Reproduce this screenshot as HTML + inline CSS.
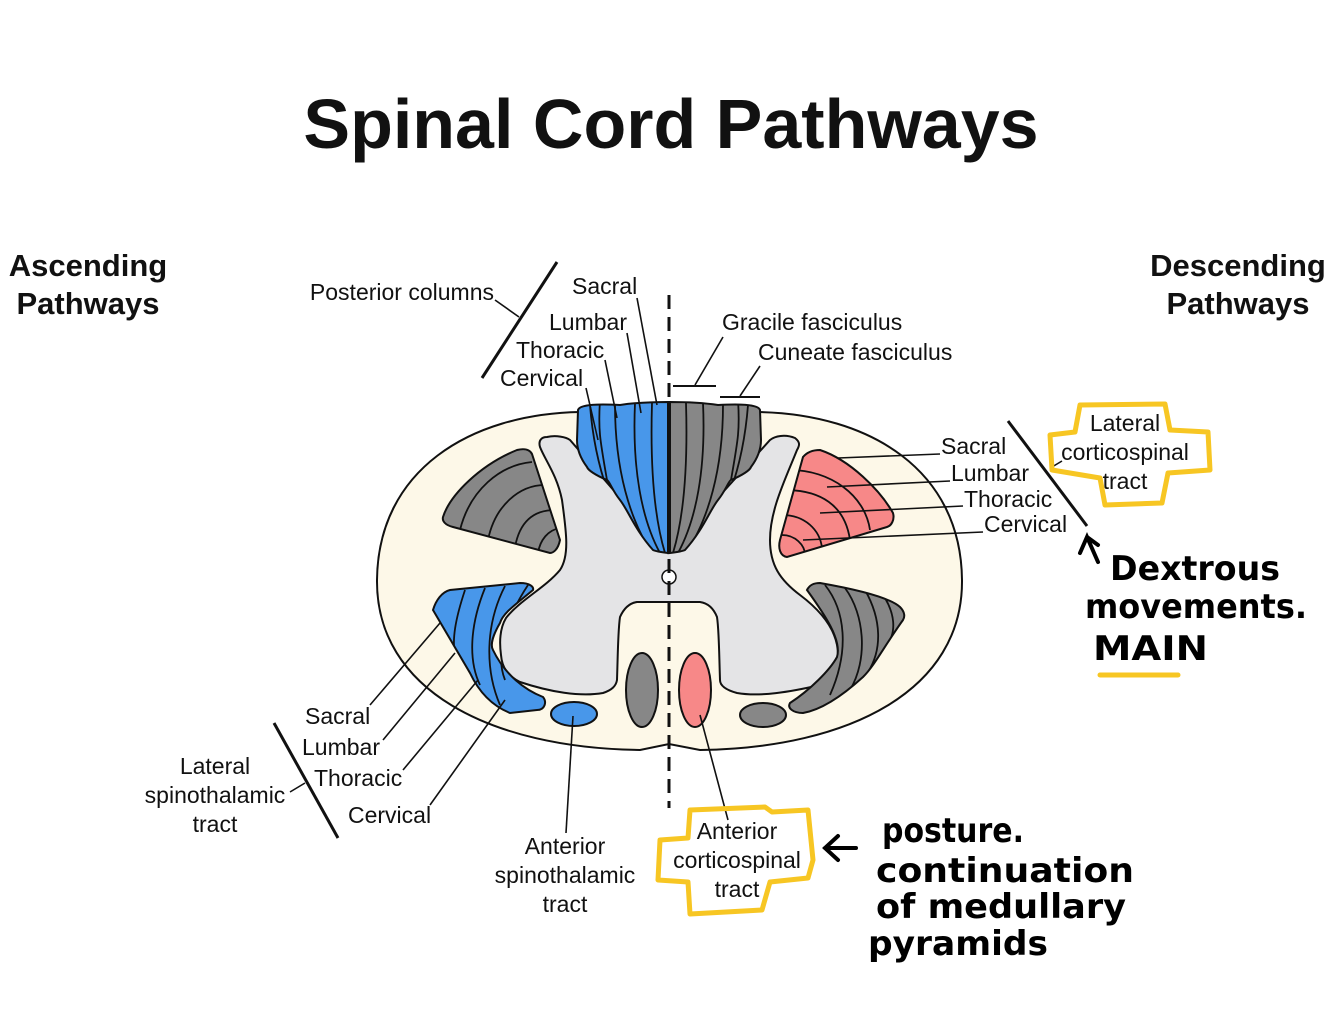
<!DOCTYPE html>
<html><head><meta charset="utf-8"><style>
html,body{margin:0;padding:0;background:#fff;}
svg{display:block;}
.t{font-family:"Liberation Sans",sans-serif;font-size:23px;fill:#111;}
.h{font-family:"Liberation Sans",sans-serif;font-size:31px;font-weight:bold;fill:#111;}
.hw{font-family:"DejaVu Sans",sans-serif;font-weight:bold;fill:#000;font-size:34px;}
</style></head><body>
<svg width="1334" height="1015" viewBox="0 0 1334 1015" xmlns="http://www.w3.org/2000/svg">
<defs>
<clipPath id="cpb"><path d="M578,410 C580,404 600,404 620,405 C640,402 660,402 668,402 L668,553 C660,552 655,551 653,550 C635,530 628,510 620,500 C612,490 610,482 607,480 C595,475 588,470 587,467 C578,455 577,445 577,440 Z"/></clipPath>
<clipPath id="cpg"><path d="M760,410 C758,404 738,404 718,405 C698,402 678,402 670,402 L670,553 C678,552 683,551 685,550 C703,530 710,510 718,500 C726,490 728,482 731,480 C743,475 750,470 751,467 C760,455 761,445 761,440 Z"/></clipPath>
<clipPath id="cl1"><path d="M443,517 C450,495 480,465 517,450 C525,448 530,450 532,454 L560,540 C558,550 553,553 550,553 L453,527 C445,525 442,521 443,517Z"/></clipPath>
<clipPath id="cr1"><path d="M803,457 C808,451 815,450 820,450 C850,460 880,490 893,513 C895,520 891,526 887,527 L787,557 C780,556 778,548 780,540 Z"/></clipPath>
<clipPath id="cl2"><path d="M433,610 C436,600 442,592 450,590 L520,583 C530,583 534,587 533,590 C515,605 503,613 500,623 C493,635 490,645 493,650 C505,675 525,690 543,697 C547,702 545,710 537,710 L510,713 C490,705 478,690 470,673 Z"/></clipPath>
<clipPath id="cr2"><path d="M807,590 C810,584 815,583 820,583 C860,590 890,598 900,607 C905,612 905,617 903,620 C885,645 875,665 863,677 C840,698 820,710 803,713 C793,713 787,708 790,703 C810,690 830,670 837,657 C842,640 825,615 807,590 Z"/></clipPath>
</defs>

<text x="671" y="148" text-anchor="middle" font-family="Liberation Sans,sans-serif" font-weight="bold" font-size="70" fill="#111">Spinal Cord Pathways</text>
<text x="88" y="276" text-anchor="middle" class="h">Ascending</text>
<text x="88" y="314" text-anchor="middle" class="h">Pathways</text>
<text x="1238" y="276" text-anchor="middle" class="h">Descending</text>
<text x="1238" y="314" text-anchor="middle" class="h">Pathways</text>

<path d="M580,412 C470,414 378,470 377,580 C376,690 490,748 640,750 L669,744 L700,750 C850,748 963,690 962,580 C961,470 870,414 758,412 Z" fill="#fdf8e8" stroke="#111" stroke-width="2"/>

<path d="M540,447 C538,440 542,437 547,437 C556,435 566,437 570,440 L668,553 L770,440 C775,436 785,434 795,438 C800,442 800,445 797,450 C785,480 770,510 770,540 C770,565 780,580 800,595 C820,610 838,630 838,655 C836,675 828,683 820,685 C790,692 760,697 737,693 C726,690 720,686 720,680 C719,650 719,630 717,617 C713,607 707,603 700,602 L637,602 C630,603 624,608 620,617 C618,630 618,650 617,680 C616,686 612,690 603,693 C580,697 550,692 520,682 C508,676 502,668 501,655 C499,640 500,628 506,618 C520,600 545,588 560,570 C570,555 566,530 562,500 C557,475 545,460 540,447 Z" fill="#e4e4e6" stroke="#111" stroke-width="2"/>

<g clip-path="url(#cpb)"><rect x="570" y="395" width="100" height="165" fill="#4897ea"/>
<g stroke="#111" stroke-width="1.8" fill="none">
<path d="M590,405 C595,470 615,520 640,553"/><path d="M615,405 C615,470 630,520 652,553"/><path d="M635,403 C632,470 642,520 660,553"/><path d="M652,403 C650,470 655,520 665,553"/><path d="M600,400 C598,430 600,440 607,480"/>
</g></g>
<path d="M578,410 C580,404 600,404 620,405 C640,402 660,402 668,402 L668,553 C660,552 655,551 653,550 C635,530 628,510 620,500 C612,490 610,482 607,480 C595,475 588,470 587,467 C578,455 577,445 577,440 Z" fill="none" stroke="#111" stroke-width="2"/>
<g clip-path="url(#cpg)"><rect x="668" y="395" width="100" height="165" fill="#878787"/>
<g stroke="#111" stroke-width="1.8" fill="none">
<path d="M748,405 C743,470 723,520 698,553"/><path d="M723,405 C723,470 708,520 686,553"/><path d="M703,403 C706,470 696,520 678,553"/><path d="M686,403 C688,470 683,520 673,553"/><path d="M738,400 C740,430 738,440 731,480"/>
</g></g>
<path d="M760,410 C758,404 738,404 718,405 C698,402 678,402 670,402 L670,553 C678,552 683,551 685,550 C703,530 710,510 718,500 C726,490 728,482 731,480 C743,475 750,470 751,467 C760,455 761,445 761,440 Z" fill="none" stroke="#111" stroke-width="2"/>

<g clip-path="url(#cl1)"><rect x="430" y="440" width="140" height="120" fill="#878787"/>
<g stroke="#111" stroke-width="1.8" fill="none"><path d="M460,530 C470,490 500,465 532,462"/><path d="M488,540 C495,505 520,485 545,485"/><path d="M515,547 C520,520 535,510 555,510"/><path d="M538,553 C540,540 548,530 560,528"/></g></g>
<path d="M443,517 C450,495 480,465 517,450 C525,448 530,450 532,454 L560,540 C558,550 553,553 550,553 L453,527 C445,525 442,521 443,517Z" fill="none" stroke="#111" stroke-width="2"/>

<g clip-path="url(#cr1)"><rect x="775" y="440" width="130" height="125" fill="#f78888"/>
<g stroke="#111" stroke-width="1.8" fill="none"><path d="M790,470 C830,470 865,495 870,530"/><path d="M785,490 C820,490 845,505 850,540"/><path d="M782,515 C805,515 820,530 822,548"/><path d="M782,535 C795,535 805,545 805,555"/></g></g>
<path d="M803,457 C808,451 815,450 820,450 C850,460 880,490 893,513 C895,520 891,526 887,527 L787,557 C780,556 778,548 780,540 Z" fill="none" stroke="#111" stroke-width="2"/>
<g stroke="#111" stroke-width="1.6"><path d="M838,458 L940,454"/><path d="M827,487 L950,481"/><path d="M820,513 L963,506"/><path d="M803,540 L983,532"/></g>

<g clip-path="url(#cl2)"><rect x="425" y="575" width="125" height="145" fill="#4897ea"/>
<g stroke="#111" stroke-width="1.8" fill="none"><path d="M465,590 C455,620 452,640 455,655"/><path d="M485,588 C470,625 468,660 480,685"/><path d="M505,586 C485,625 485,670 500,705"/><path d="M528,585 C505,620 495,655 505,680"/></g></g>
<path d="M433,610 C436,600 442,592 450,590 L520,583 C530,583 534,587 533,590 C515,605 503,613 500,623 C493,635 490,645 493,650 C505,675 525,690 543,697 C547,702 545,710 537,710 L510,713 C490,705 478,690 470,673 Z" fill="none" stroke="#111" stroke-width="2"/>

<g clip-path="url(#cr2)"><rect x="785" y="575" width="125" height="145" fill="#878787"/>
<g stroke="#111" stroke-width="1.8" fill="none"><path d="M825,585 C845,610 850,650 830,695"/><path d="M845,588 C865,615 868,660 850,690"/><path d="M865,590 C882,620 882,650 868,672"/><path d="M885,598 C895,615 895,630 890,640"/></g></g>
<path d="M807,590 C810,584 815,583 820,583 C860,590 890,598 900,607 C905,612 905,617 903,620 C885,645 875,665 863,677 C840,698 820,710 803,713 C793,713 787,708 790,703 C810,690 830,670 837,657 C842,640 825,615 807,590 Z" fill="none" stroke="#111" stroke-width="2"/>

<ellipse cx="574" cy="714" rx="23" ry="12" fill="#4897ea" stroke="#111" stroke-width="2"/>
<ellipse cx="642" cy="690" rx="16" ry="37" fill="#878787" stroke="#111" stroke-width="2"/>
<ellipse cx="695" cy="690" rx="16" ry="37" fill="#f78888" stroke="#111" stroke-width="2"/>
<ellipse cx="763" cy="715" rx="23" ry="12" fill="#878787" stroke="#111" stroke-width="2"/>
<circle cx="669" cy="577" r="7" fill="#fff" stroke="#111" stroke-width="1.5"/>

<line x1="669" y1="295" x2="669" y2="808" stroke="#111" stroke-width="3" stroke-dasharray="14,8"/>

<g stroke="#111" stroke-width="1.6" fill="none">
<line x1="557" y1="262" x2="482" y2="378" stroke-width="3"/>
<line x1="495" y1="300" x2="519" y2="317"/>
<line x1="637" y1="298" x2="657" y2="405"/>
<line x1="627" y1="333" x2="641" y2="413"/>
<line x1="605" y1="360" x2="617" y2="418"/>
<line x1="586" y1="388" x2="598" y2="440"/>
<line x1="673" y1="386" x2="716" y2="386" stroke-width="2"/>
<line x1="695" y1="385" x2="723" y2="337"/>
<line x1="720" y1="397" x2="760" y2="397" stroke-width="2"/>
<line x1="740" y1="396" x2="760" y2="366"/>
<line x1="1008" y1="421" x2="1087" y2="526" stroke-width="3"/>
<line x1="1052" y1="467" x2="1062" y2="461"/>
<line x1="274" y1="723" x2="338" y2="838" stroke-width="3"/>
<line x1="290" y1="792" x2="305" y2="783"/>
<line x1="370" y1="705" x2="440" y2="623"/>
<line x1="383" y1="740" x2="455" y2="653"/>
<line x1="403" y1="770" x2="478" y2="680"/>
<line x1="430" y1="805" x2="505" y2="700"/>
<line x1="566" y1="833" x2="573" y2="716"/>
<line x1="728" y1="820" x2="700" y2="715"/>
</g>
<text x="494" y="300" text-anchor="end" class="t">Posterior columns</text>
<text x="572" y="294" class="t">Sacral</text>
<text x="549" y="330" class="t">Lumbar</text>
<text x="516" y="358" class="t">Thoracic</text>
<text x="500" y="386" class="t">Cervical</text>
<text x="722" y="330" class="t">Gracile fasciculus</text>
<text x="758" y="360" class="t">Cuneate fasciculus</text>
<text x="941" y="454" class="t">Sacral</text>
<text x="951" y="481" class="t">Lumbar</text>
<text x="964" y="507" class="t">Thoracic</text>
<text x="984" y="532" class="t">Cervical</text>
<text x="1125" y="431" text-anchor="middle" class="t">Lateral</text>
<text x="1125" y="460" text-anchor="middle" class="t">corticospinal</text>
<text x="1125" y="489" text-anchor="middle" class="t">tract</text>
<text x="305" y="724" class="t">Sacral</text>
<text x="302" y="755" class="t">Lumbar</text>
<text x="314" y="786" class="t">Thoracic</text>
<text x="348" y="823" class="t">Cervical</text>
<text x="215" y="774" text-anchor="middle" class="t">Lateral</text>
<text x="215" y="803" text-anchor="middle" class="t">spinothalamic</text>
<text x="215" y="832" text-anchor="middle" class="t">tract</text>
<text x="565" y="854" text-anchor="middle" class="t">Anterior</text>
<text x="565" y="883" text-anchor="middle" class="t">spinothalamic</text>
<text x="565" y="912" text-anchor="middle" class="t">tract</text>
<text x="737" y="839" text-anchor="middle" class="t">Anterior</text>
<text x="737" y="868" text-anchor="middle" class="t">corticospinal</text>
<text x="737" y="897" text-anchor="middle" class="t">tract</text>

<g stroke="#f7c623" stroke-width="5" fill="none" stroke-linecap="round" stroke-linejoin="round">
<path d="M1080,405 L1165,404 L1170,430 L1208,432 L1210,470 L1168,473 L1162,503 L1105,505 L1100,478 L1052,470 L1050,435 L1075,432 Z"/>
<path d="M1100,675 L1178,675"/>
<path d="M690,810 L765,807 L772,812 L808,810 L813,860 L808,878 L770,882 L762,910 L690,914 L688,882 L658,880 L660,840 L688,838 Z"/>
</g>

<g stroke="#000" stroke-width="4" fill="none" stroke-linecap="round"><path d="M1098,562 L1087,537 L1080,553 M1087,537 L1098,545"/>
<path d="M856,848 L825,848 M838,836 L825,848 L838,860"/></g>
<text x="1110" y="580" class="hw" textLength="170" lengthAdjust="spacingAndGlyphs">Dextrous</text>
<text x="1085" y="618" class="hw" textLength="222" lengthAdjust="spacingAndGlyphs">movements.</text>
<text x="1093" y="660" class="hw" textLength="115" lengthAdjust="spacingAndGlyphs">MAIN</text>
<text x="882" y="842" class="hw" textLength="142" lengthAdjust="spacingAndGlyphs">posture.</text>
<text x="876" y="882" class="hw" textLength="258" lengthAdjust="spacingAndGlyphs">continuation</text>
<text x="876" y="918" class="hw" textLength="250" lengthAdjust="spacingAndGlyphs">of medullary</text>
<text x="868" y="955" class="hw" textLength="180" lengthAdjust="spacingAndGlyphs">pyramids</text>
</svg>
</body></html>
